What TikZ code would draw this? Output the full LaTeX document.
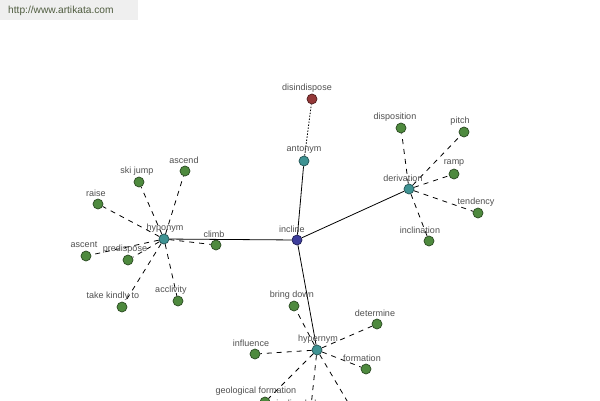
\documentclass[tikz,border=0pt]{standalone}
\usepackage{fontspec}
\setmainfont{Liberation Sans}
\definecolor{leafc}{HTML}{4E8A3E}
\definecolor{leafb}{HTML}{2B4A22}
\definecolor{relc}{HTML}{3F9393}
\definecolor{relb}{HTML}{235454}
\definecolor{rootc}{HTML}{3E3E9C}
\definecolor{rootb}{HTML}{1F1F55}
\definecolor{antc}{HTML}{943838}
\definecolor{antb}{HTML}{4F1C1C}
\definecolor{lblc}{HTML}{505050}
\definecolor{wmbg}{HTML}{EFEFEF}
\definecolor{wmtx}{HTML}{4F5C3F}
\tikzset{
  dot/.style={circle, inner sep=0pt, minimum size=10pt, line width=0.7pt},
  leaf/.style={dot, draw=leafb, fill=leafc},
  rel/.style={dot, draw=relb, fill=relc},
  root/.style={dot, draw=rootb, fill=rootc},
  anti/.style={dot, draw=antb, fill=antc},
  lbl/.style={inner sep=0pt, text=lblc, font=\fontsize{9}{10}\selectfont},
  solidedge/.style={draw=black, line width=0.8pt},
  dashedge/.style={draw=black, line width=0.8pt, dash pattern=on 5pt off 5pt},
  dotedge/.style={draw=black, line width=0.8pt, dash pattern=on 1.5pt off 1.5pt}
}
\begin{document}
\begin{tikzpicture}[x=1pt,y=-1pt]
\useasboundingbox (0,0) rectangle (600,400);
\clip (0,0) rectangle (600,400);
\fill[white] (0,0) rectangle (600,400);
% watermark
\fill[wmbg] (0,0) rectangle (138,20);
\node[anchor=west, inner sep=0pt, text=wmtx, font=\fontsize{10.2}{11}\selectfont] (wm) at (8,11) {http://www.artikata.com};

% nodes
\node[root] (incline) at (297,240) {};
\node[rel] (antonym) at (304,161) {};
\node[anti] (disindispose) at (312,99) {};
\node[rel] (derivation) at (409,189) {};
\node[leaf] (disposition) at (401,128) {};
\node[leaf] (pitch) at (464,132) {};
\node[leaf] (ramp) at (454,174) {};
\node[leaf] (tendency) at (478,213) {};
\node[leaf] (inclination) at (429,241) {};
\node[rel] (hyponym) at (164,239) {};
\node[leaf] (climb) at (216,245) {};
\node[leaf] (ascend) at (185,171) {};
\node[leaf] (skijump) at (139,182) {};
\node[leaf] (raise) at (98,204) {};
\node[leaf] (ascent) at (86,256) {};
\node[leaf] (predispose) at (128,260) {};
\node[leaf] (takekindly) at (122,307) {};
\node[leaf] (acclivity) at (178,301) {};
\node[rel] (hypernym) at (317,350) {};
\node[leaf] (bringdown) at (294,306) {};
\node[leaf] (determine) at (377,324) {};
\node[leaf] (influence) at (255,354) {};
\node[leaf] (formation) at (366,369) {};
\node[leaf] (geoform) at (265,402) {};
\node[leaf] (inclplane) at (310,416) {};
\node[leaf] (hidden) at (356,416) {};

% edges
\path[solidedge] (incline) -- (antonym);
\path[solidedge] (incline) -- (derivation);
\path[solidedge] (incline) -- (hyponym);
\path[solidedge] (incline) -- (hypernym);
\path[dotedge] (antonym) -- (disindispose);
\foreach \t in {disposition,pitch,ramp,tendency,inclination}
  \path[dashedge] (derivation) -- (\t);
\foreach \t in {climb,ascend,skijump,raise,ascent,predispose,takekindly,acclivity}
  \path[dashedge] (hyponym) -- (\t);
\foreach \t in {bringdown,determine,influence,formation,geoform,inclplane,hidden}
  \path[dashedge] (hypernym) -- (\t);

% labels
\node[lbl] (l-incline) at (292,229) {incline};
\node[lbl] (l-antonym) at (304,150) {antonym};
\node[lbl] (l-disindispose) at (307,88) {disindispose};
\node[lbl] (l-derivation) at (403,178) {derivation};
\node[lbl] (l-disposition) at (395,117) {disposition};
\node[lbl] (l-pitch) at (460,121) {pitch};
\node[lbl] (l-ramp) at (454,163) {ramp};
\node[lbl] (l-tendency) at (476,202) {tendency};
\node[lbl] (l-inclination) at (420,230) {inclination};
\node[lbl] (l-hyponym) at (165,228) {hyponym};
\node[lbl] (l-climb) at (214,234) {climb};
\node[lbl] (l-ascend) at (184,160) {ascend};
\node[lbl] (l-skijump) at (137,171) {ski jump};
\node[lbl] (l-raise) at (96,193) {raise};
\node[lbl] (l-ascent) at (84,245) {ascent};
\node[lbl] (l-predispose) at (125,249) {predispose};
\node[lbl] (l-takekindly) at (113,296) {take kindly to};
\node[lbl] (l-acclivity) at (171,290) {acclivity};
\node[lbl] (l-hypernym) at (318,339) {hypernym};
\node[lbl] (l-bringdown) at (292,295) {bring down};
\node[lbl] (l-determine) at (375,313) {determine};
\node[lbl] (l-influence) at (251,343) {influence};
\node[lbl] (l-formation) at (362,358) {formation};
\node[lbl] (l-geoform) at (256,391) {geological formation};
\node[lbl] (l-inclplane) at (304,404) {inclined plane};
\end{tikzpicture}
\end{document}
